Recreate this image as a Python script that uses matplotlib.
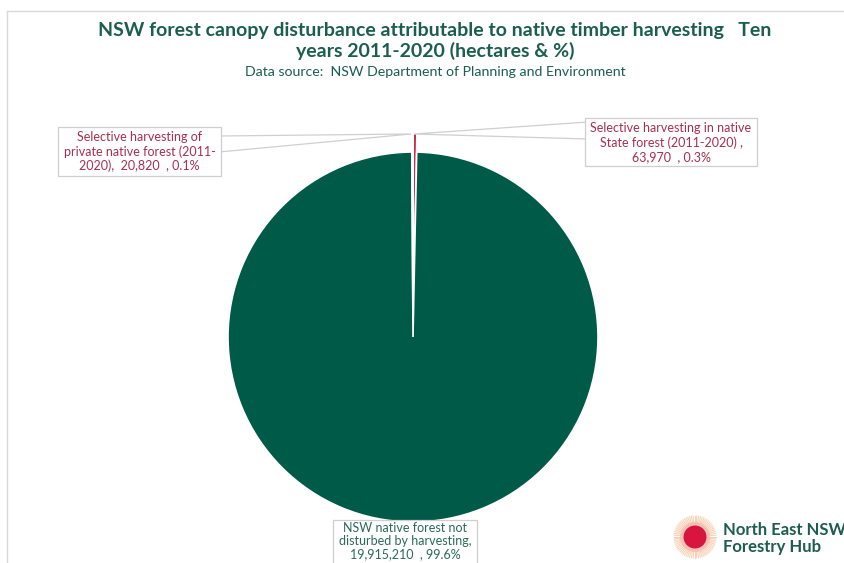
import numpy as np
import matplotlib
matplotlib.use("Agg")
import matplotlib.pyplot as plt
from matplotlib.patches import Rectangle, Polygon, Circle

# Canopy disturbance 2011-2020 (hectares)
categories = [
    "Selective harvesting in native\nState forest (2011-2020) ,\n63,970  , 0.3%",
    "NSW native forest not\ndisturbed by harvesting,\n19,915,210  , 99.6%",
    "Selective harvesting of\nprivate native forest (2011-\n2020),  20,820  , 0.1%",
]
hectares = [63970, 19915210, 20820]
slice_colors = ["#C8284A", "#005A48", "#C8284A"]
explode = [0.1, 0.0, 0.1]

title = ("NSW forest canopy disturbance attributable to native timber harvesting   Ten\n"
         "years 2011-2020 (hectares & %)")
subtitle = "Data source:  NSW Department of Planning and Environment"

W, H = 845, 563
fig = plt.figure(figsize=(W / 100, H / 100), dpi=100)
fig.patch.set_facecolor("white")

# overlay in pixel coordinates (origin top-left) for frame, callouts and logo
ov = fig.add_axes([0, 0, 1, 1], zorder=3)
ov.set_xlim(0, W)
ov.set_ylim(H, 0)
ov.axis("off")
ov.patch.set_alpha(0)

# chart frame
ov.plot([7, W], [11, 11], color="#D9D9D9", lw=1)
ov.plot([7, 7], [11, H], color="#D9D9D9", lw=1)

font = "Lato"
title_col = "#1B5E50"
ov.text(435, 41, title, ha="center", va="center", fontsize=14.0, fontweight="bold",
        color=title_col, family=font, linespacing=1.15)
ov.text(435, 72, subtitle, ha="center", va="center", fontsize=10.2,
        color=title_col, family=font)

# pie
R = 185
cx, cy = 413, 337
pax = fig.add_axes([(cx - R) / W, (H - cy - R) / H, 2 * R / W, 2 * R / H], zorder=2)
wedges, _ = pax.pie(hectares, colors=slice_colors, explode=explode, startangle=90,
                    counterclock=False, radius=1,
                    wedgeprops=dict(edgecolor="white", linewidth=1.2))
for w in wedges:
    w.set_clip_on(False)
pax.set_xlim(-1, 1)
pax.set_ylim(-1, 1)
pax.set_aspect("equal")
pax.axis("off")

red_txt = "#A82E50"
green_txt = "#2A6A5A"
box_edge = "#CFCFCF"
lab_size = 9.0
lab_ls = 1.22

# callout: state forest (right)
ov.add_patch(Polygon([[588, 122], [588, 139], [414, 134]], closed=True,
                     facecolor="white", edgecolor=box_edge, lw=0.9, zorder=4))
ov.add_patch(Rectangle((585, 118), 172, 48, facecolor="white", edgecolor=box_edge,
                       lw=0.9, zorder=5))
ov.text(671, 142.5, categories[0], ha="center", va="center", fontsize=lab_size,
        color=red_txt, family=font, linespacing=lab_ls, zorder=6)

# callout: private forest (left)
ov.add_patch(Polygon([[219, 136], [219, 152], [411, 134]], closed=True,
                     facecolor="white", edgecolor=box_edge, lw=0.9, zorder=4))
ov.add_patch(Rectangle((58, 127), 163, 49, facecolor="white", edgecolor=box_edge,
                       lw=0.9, zorder=5))
ov.text(139.5, 151.5, categories[2], ha="center", va="center", fontsize=lab_size,
        color=red_txt, family=font, linespacing=lab_ls, zorder=6)

# callout: undisturbed forest (bottom)
ov.add_patch(Rectangle((333, 520), 144, 50, facecolor="white", edgecolor=box_edge,
                       lw=0.9, zorder=5))
ov.text(405, 541, categories[1], ha="center", va="center", fontsize=lab_size,
        color=green_txt, family=font, linespacing=1.15, zorder=6)

# logo
lx, ly = 695, 537
ang = np.linspace(0, 2 * np.pi, 72, endpoint=False)
for a in ang:
    ov.plot([lx + 12 * np.cos(a), lx + 21 * np.cos(a)],
            [ly + 12 * np.sin(a), ly + 21 * np.sin(a)],
            color="#F3C9A8", lw=0.8, alpha=0.8, zorder=4)
ov.add_patch(Circle((lx, ly), 15, facecolor="#F6B8B0", edgecolor="none", zorder=4, alpha=0.7))
ov.add_patch(Circle((lx, ly), 11.5, facecolor="#D8153F", edgecolor="none", zorder=5))
ov.text(723, 530, "North East NSW", ha="left", va="center", fontsize=12.0,
        fontweight="bold", color="#1D5C4E", family=font, zorder=6)
ov.text(723, 547, "Forestry Hub", ha="left", va="center", fontsize=12.0,
        fontweight="bold", color="#1D5C4E", family=font, zorder=6)

fig.savefig("out.png", dpi=100, facecolor="white")
